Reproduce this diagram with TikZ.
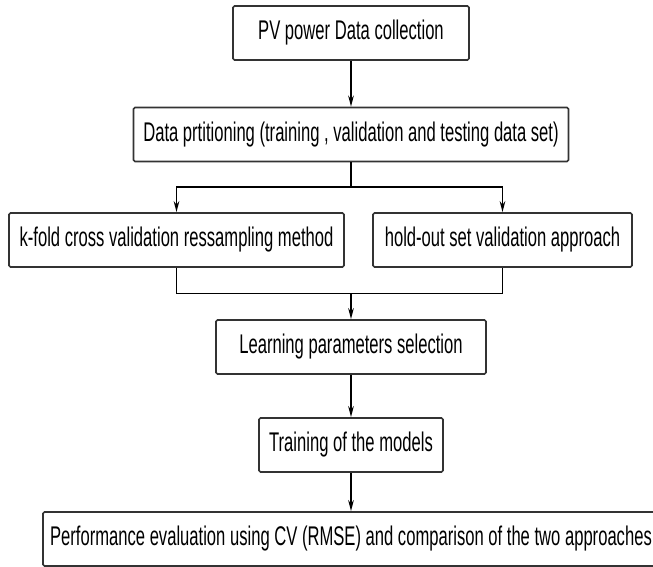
\documentclass[tikz,border=0pt]{standalone}
\usepackage{fontspec}
\setmainfont{Liberation Sans}[FakeStretch=0.615]
\usetikzlibrary{arrows.meta,calc}

\begin{document}
\begin{tikzpicture}[x=1pt,y=-1pt,>={Stealth[length=11pt,width=5.5pt]},
                    line width=1.9pt,node distance=100pt,
                    every node/.style={font=\fontsize{27}{31}\selectfont}]
  \tikzstyle{stage}=[draw=black!80,line width=1.6pt,rounded corners=1.5pt,
                     minimum height=54pt,inner sep=0pt,fill=white]
  \useasboundingbox[fill=white] (0,0) rectangle (653,567);

  \node[stage,minimum width=236pt] (PV) at (351,33) {PV power Data collection};
  \node[stage,minimum width=435pt] (DP) [below of=PV,node distance=101.5pt]
       {Data prtitioning (training , validation and testing data set)};
  \node[stage,minimum width=335pt] (KF) [below of=DP,node distance=105.5pt,xshift=-174.5pt]
       {k-fold cross validation ressampling method};
  \node[stage,minimum width=259pt] (HO) [right of=KF,node distance=326pt]
       {hold-out set validation approach};
  \node[stage,minimum width=270pt] (LP) [below of=DP,node distance=212.5pt]
       {Learning parameters selection};
  \node[stage,minimum width=184pt] (TM) [below of=LP,node distance=98pt]
       {Training of the models};
  \node[stage,minimum width=616pt] (PE) [below of=TM,node distance=94pt]
       {Performance evaluation using CV (RMSE) and comparison of the two approaches};

  \coordinate (fork) at ($(DP.south)!0.5!(DP.south|-KF.north)$);
  \coordinate (join) at ($(LP.north)!0.5!(LP.north|-KF.south)$);

  \draw[->] (PV) -- (DP);
  \draw[->] (DP.south) -- (fork) -| (KF.north);
  \draw[->] (fork) -| (HO.north);
  \draw (KF.south) |- (join) -| (HO.south);
  \draw[->] (join) -- (LP);
  \draw[->] (LP) -- (TM);
  \draw[->] (TM) -- (PE);
\end{tikzpicture}
\end{document}
